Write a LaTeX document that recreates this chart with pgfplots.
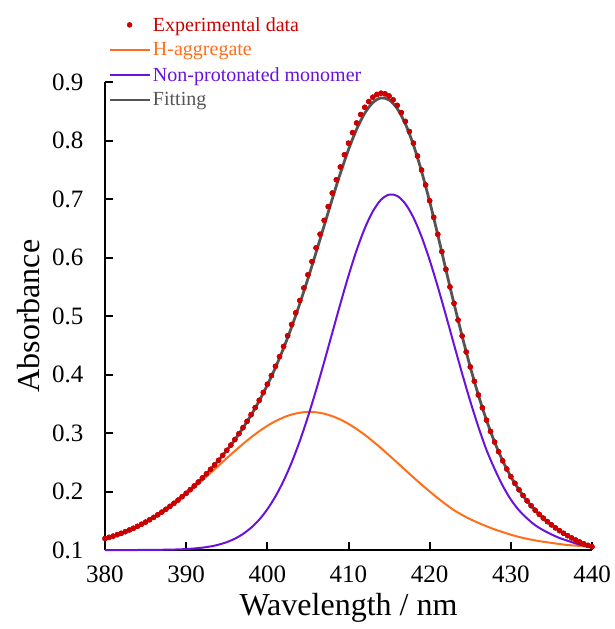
\documentclass[border=0pt]{standalone}
\usepackage{pgfplots}
\pgfplotsset{compat=1.18}
\usepackage{pgfplotstable}
\usepackage{fontspec}
\setmainfont{Liberation Serif}
\definecolor{expred}{HTML}{CC0000}
\definecolor{horange}{HTML}{FF6F1A}
\definecolor{npurple}{HTML}{6A12DC}
\definecolor{fitgray}{HTML}{555555}
\pgfplotsset{
  linelegend/.style={legend image code/.code={\draw[##1] (0pt,0pt) -- (40pt,0pt);}},
  dotlegend/.style={legend image code/.code={\draw[##1, mark repeat=2, mark phase=2] plot coordinates {(0pt,0pt) (20pt,0pt) (40pt,0pt)};}},
}

\pgfplotstableread{
lam E
380 0.1196
380.5 0.1216
381 0.1237
381.5 0.1261
382 0.1286
382.5 0.1313
383 0.1342
383.5 0.1372
384 0.1405
384.5 0.1441
385 0.1477
385.5 0.1517
386 0.1558
386.5 0.1602
387 0.1648
387.5 0.1696
388 0.1746
388.5 0.1799
389 0.1853
389.5 0.1911
390 0.1970
390.5 0.2031
391 0.2096
391.5 0.2162
392 0.2232
392.5 0.2303
393 0.2378
393.5 0.2455
394 0.2534
394.5 0.2617
395 0.2703
395.5 0.2793
396 0.2888
396.5 0.2988
397 0.3091
397.5 0.3199
398 0.3313
398.5 0.3433
399 0.3559
399.5 0.3693
400 0.3834
400.5 0.3982
401 0.4140
401.5 0.4306
402 0.4480
402.5 0.4663
403 0.4855
403.5 0.5055
404 0.5265
404.5 0.5480
405 0.5704
405.5 0.5931
406 0.6164
406.5 0.6398
407 0.6635
407.5 0.6870
408 0.7102
408.5 0.7329
409 0.7548
409.5 0.7756
410 0.7954
410.5 0.8135
411 0.8300
411.5 0.8444
412 0.8568
412.5 0.8666
413 0.8740
413.5 0.8787
414 0.8808
414.5 0.8798
415 0.8761
415.5 0.8695
416 0.8601
416.5 0.8477
417 0.8327
417.5 0.8154
418 0.7955
418.5 0.7735
419 0.7496
419.5 0.7240
420 0.6970
420.5 0.6688
421 0.6397
421.5 0.6100
422 0.5798
422.5 0.5497
423 0.5216
423.5 0.4931
424 0.4659
424.5 0.4385
425 0.4130
425.5 0.3885
426 0.3650
426.5 0.3430
427 0.3220
427.5 0.3027
428 0.2845
428.5 0.2680
429 0.2525
429.5 0.2385
430 0.2255
430.5 0.2140
431 0.2030
431.5 0.1932
432 0.1840
432.5 0.1757
433 0.1680
433.5 0.1610
434 0.1545
434.5 0.1485
435 0.1430
435.5 0.1378
436 0.1330
436.5 0.1286
437 0.1245
437.5 0.1206
438 0.1170
438.5 0.1136
439 0.1105
439.5 0.1079
440 0.1055
}\exptable

\pgfplotstableread{
lam O P F
380 0.1196 0.1000 0.1196
381 0.1237 0.1000 0.1237
382 0.1286 0.1000 0.1286
383 0.1342 0.1000 0.1342
384 0.1405 0.1000 0.1405
385 0.1476 0.1001 0.1477
386 0.1556 0.1002 0.1558
387 0.1644 0.1004 0.1648
388 0.1740 0.1006 0.1746
389 0.1843 0.1010 0.1853
390 0.1954 0.1016 0.1970
391 0.2070 0.1026 0.2096
392 0.2192 0.1040 0.2232
393 0.2317 0.1061 0.2378
394 0.2443 0.1091 0.2534
395 0.2569 0.1134 0.2703
396 0.2693 0.1193 0.2886
397 0.2813 0.1274 0.3087
398 0.2926 0.1381 0.3307
399 0.3030 0.1519 0.3549
400 0.3123 0.1696 0.3819
401 0.3202 0.1916 0.4118
402 0.3267 0.2182 0.4449
403 0.3316 0.2498 0.4814
404 0.3347 0.2864 0.5211
405 0.3360 0.3277 0.5637
406 0.3354 0.3730 0.6084
407 0.3330 0.4213 0.6543
408 0.3288 0.4712 0.7000
409 0.3230 0.5210 0.7440
410 0.3156 0.5688 0.7844
411 0.3068 0.6124 0.8192
412 0.2969 0.6497 0.8466
413 0.2859 0.6789 0.8648
414 0.2742 0.6986 0.8728
415 0.2619 0.7075 0.8694
416 0.2494 0.7053 0.8547
417 0.2367 0.6919 0.8286
418 0.2241 0.6683 0.7924
419 0.2118 0.6356 0.7474
420 0.2000 0.5955 0.6955
421 0.1887 0.5500 0.6387
422 0.1780 0.5012 0.5792
423 0.1681 0.4511 0.5212
424 0.1600 0.4017 0.4657
425 0.1527 0.3544 0.4130
426 0.1463 0.3106 0.3650
427 0.1406 0.2711 0.3220
428 0.1352 0.2386 0.2845
429 0.1306 0.2099 0.2525
430 0.1262 0.1862 0.2255
431 0.1223 0.1680 0.2030
432 0.1191 0.1540 0.1840
433 0.1164 0.1424 0.1680
434 0.1141 0.1338 0.1545
435 0.1122 0.1267 0.1430
436 0.1102 0.1205 0.1330
437 0.1085 0.1158 0.1245
438 0.1075 0.1111 0.1170
439 0.1062 0.1074 0.1105
440 0.1050 0.1041 0.1055
}\linetable

\begin{document}
\begin{tikzpicture}
\begin{axis}[
  scale only axis, width=487pt, height=468pt,
  xmin=380, xmax=440, ymin=0.1, ymax=0.9,
  axis x line=bottom, axis y line=left,
  x axis line style={-, line width=2pt},
  y axis line style={-, line width=2pt},
  tick align=inside, major tick length=8pt,
  tick style={line width=2pt, black},
  xtick={380,390,400,410,420,430,440},
  xticklabels={380,390,400,410,420,430,440},
  ytick={0.1,0.2,0.3,0.4,0.5,0.6,0.7,0.8,0.9},
  yticklabels={0.1,0.2,0.3,0.4,0.5,0.6,0.7,0.8,0.9},
  ticklabel style={font=\fontsize{25}{30}\selectfont},
  xticklabel style={yshift=-12pt},
  yticklabel style={xshift=-18pt},
  xlabel={Wavelength / nm}, ylabel={Absorbance},
  label style={font=\fontsize{32}{38}\selectfont},
  xlabel style={at={(axis description cs:0.5,-0.1389)}, anchor=base, inner sep=0pt},
  ylabel style={at={(axis description cs:-0.1335,0.5)}, anchor=base, inner sep=0pt},
  clip=false,
  legend cell align=left,
  legend style={at={(0,1)}, anchor=north west, xshift=3pt, yshift=67pt,
    draw=none, fill=none, font=\fontsize{20}{24}\selectfont,
    inner sep=0pt, row sep=6pt,
    /tikz/every odd column/.append style={column sep=0pt}},
]
\addplot[only marks, mark=*, mark size=2.5pt, color=expred, dotlegend]
  table[x=lam, y=E]{\exptable};
\addlegendentry{\textcolor{expred}{Experimental data}}
\addplot[horange, line width=2pt, smooth, linelegend] table[x=lam, y=O]{\linetable};
\addlegendentry{\textcolor{horange}{H-aggregate}}
\addplot[npurple, line width=2pt, smooth, linelegend] table[x=lam, y=P]{\linetable};
\addlegendentry{\textcolor{npurple}{Non-protonated monomer}}
\addplot[fitgray, line width=2.8pt, smooth, linelegend] table[x=lam, y=F]{\linetable};
\addlegendentry{\textcolor{fitgray}{Fitting}}
\addplot[only marks, mark=*, mark size=2.5pt, color=expred, forget plot]
  table[x=lam, y=E]{\exptable};
\end{axis}
\path (-105pt,-79pt) rectangle (510pt,550pt);
\end{tikzpicture}
\end{document}
